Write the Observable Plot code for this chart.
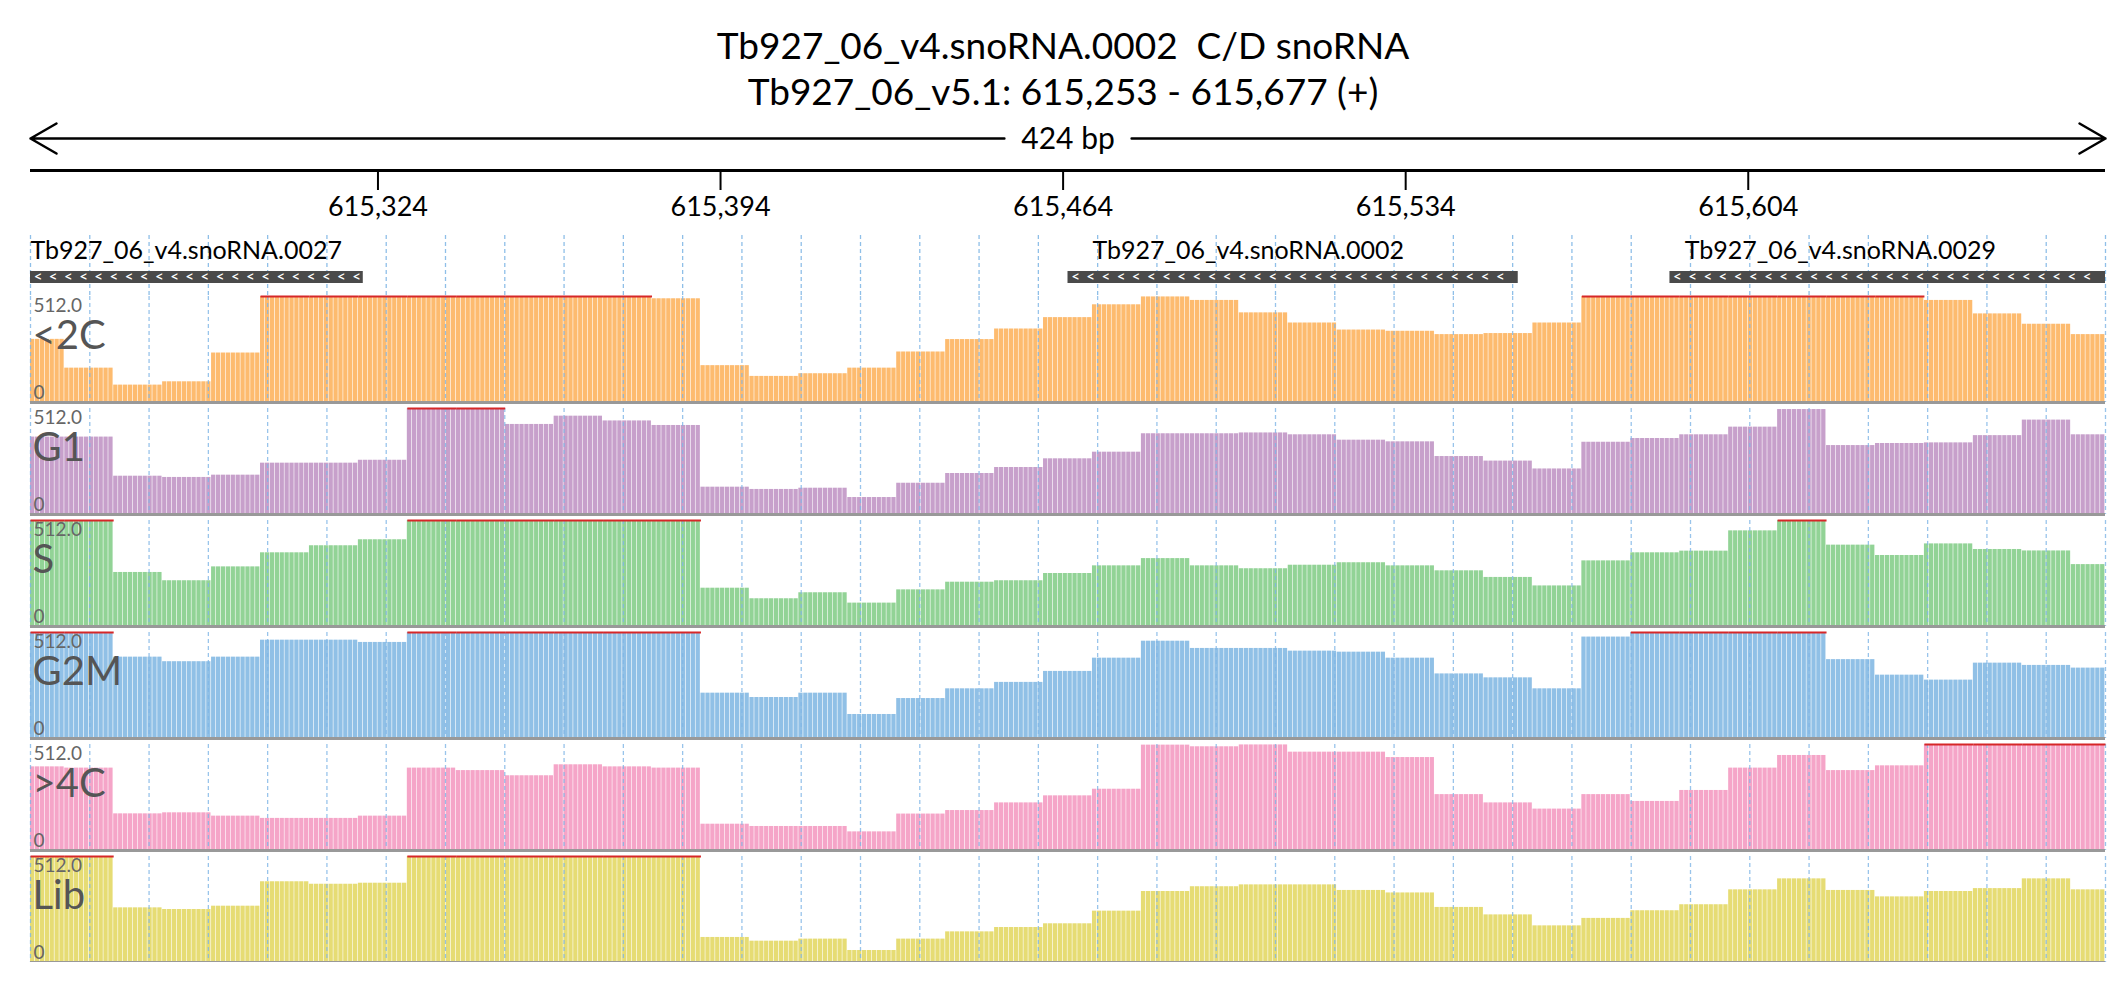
<!DOCTYPE html>
<html>
<head>
<meta charset="utf-8">
<script src="https://cdn.jsdelivr.net/npm/d3@7"></script>
<script src="https://cdn.jsdelivr.net/npm/@observablehq/plot@0.6"></script>
<style>
  body { margin: 0; background: #fff; font-family: Lato, sans-serif; }
  #title { height: 115px; text-align: center; font-size: 37px; line-height: 46px; box-sizing: border-box; padding-top: 22px; color: #000; }
  #title div { height: 46px; }
</style>
</head>
<body>
<div id="title"><div>Tb927_06_v4.snoRNA.0002&nbsp; C/D snoRNA</div><div>Tb927_06_v5.1: 615,253 - 615,677 (+)</div></div>
<div id="plot-region"></div>
<script>
const REGION_START = 615253;
const REGION_END = 615677;
const MAX_Y = 512;

const tickValues = [615324, 615394, 615464, 615534, 615604];

const genes = [
  { name: "Tb927_06_v4.snoRNA.0027", start: 615253, end: 615321, labelAt: 615253 },
  { name: "Tb927_06_v4.snoRNA.0002", start: 615465, end: 615557, labelAt: 615470 },
  { name: "Tb927_06_v4.snoRNA.0029", start: 615588, end: 615677, labelAt: 615591 }
];

const tracks = ["<2C", "G1", "S", "G2M", ">4C", "Lib"];
const trackColors = ["#fdbb6f", "#c7a0cb", "#92d396", "#90c0e6", "#f5a5c8", "#e6dc74"];

// coverage per 10bp bin (first bin 7bp, last bin 7bp); 600 = clipped at the top
const cov2C = [305, 166, 84, 100, 239, 600, 600, 600, 600, 600, 600, 600, 600, 501, 178, 126, 139, 166, 244, 304, 355, 410,
  472, 510, 493, 433, 384, 350, 344, 328, 333, 384, 600, 600, 600, 600, 600, 600, 600, 493, 428, 378, 328];
const covG1 = [374, 374, 185, 179, 190, 248, 248, 262, 600, 600, 435, 475, 452, 430, 132, 121, 127, 82, 151, 198, 227, 269,
  301, 390, 390, 394, 385, 359, 351, 280, 258, 220, 349, 367, 385, 422, 507, 333, 343, 346, 381, 456, 385];
const covS = [600, 600, 261, 221, 288, 356, 390, 419, 600, 600, 600, 600, 600, 600, 185, 134, 163, 113, 177, 214, 221, 256,
  293, 328, 293, 279, 296, 308, 293, 269, 237, 196, 317, 356, 364, 462, 600, 393, 343, 399, 372, 365, 299];
const covG2M = [600, 600, 393, 371, 393, 475, 475, 464, 600, 600, 600, 600, 600, 600, 219, 198, 219, 116, 193, 240, 271, 324,
  388, 470, 435, 435, 422, 417, 388, 312, 293, 240, 490, 600, 600, 600, 600, 381, 306, 282, 364, 353, 340];
const cov4C = [404, 398, 177, 182, 166, 155, 155, 166, 398, 386, 361, 414, 404, 398, 127, 116, 116, 90, 176, 193, 230, 264,
  296, 509, 501, 510, 475, 475, 449, 270, 230, 200, 270, 237, 290, 398, 459, 386, 409, 600, 600, 600, 600];
const covLib = [600, 600, 264, 256, 272, 390, 378, 383, 600, 600, 600, 600, 600, 600, 121, 103, 113, 58, 113, 148, 169, 187,
  248, 343, 366, 375, 375, 348, 336, 266, 230, 177, 213, 250, 279, 351, 404, 348, 317, 343, 357, 404, 351];
const coverage = [cov2C, covG1, covS, covG2M, cov4C, covLib];

const binEdges = [REGION_START, ...d3.range(615260, REGION_END, 10), REGION_END];

const W = 2126, ML = 30, MR = 21;
const xScale = { domain: [REGION_START, REGION_END], range: [ML, W - MR] };
const gridX = d3.range(36).map(i => REGION_START + i * (REGION_END - REGION_START) / 35);

function plotHeader() {
  const mid = (REGION_START + REGION_END) / 2;
  const chevrons = genes.flatMap(g => d3.range(g.start + 1.5, g.end - 1, 3.1).map(x => ({ x })));
  return Plot.plot({
    width: W, height: 180,
    marginLeft: 0, marginRight: 0, marginTop: 0, marginBottom: 0,
    x: { ...xScale, axis: null },
    y: { domain: [0, 180], range: [0, 180], axis: null },
    marks: [
      Plot.ruleX(gridX, { y1: 120, y2: 180, stroke: "#8fbfe8", strokeWidth: 1.3, strokeDasharray: "4,3" }),
      Plot.arrow([{ a: mid - 13, b: REGION_START }, { a: mid + 13, b: REGION_END }],
        { x1: "a", x2: "b", y1: 23, y2: 23, stroke: "#000", strokeWidth: 2.5, headLength: 18 }),
      Plot.text(["424 bp"], { x: mid, y: 24, fontSize: 30, fill: "#000", fontFamily: "Lato" }),
      Plot.ruleY([55], { x1: REGION_START, x2: REGION_END, stroke: "#000", strokeWidth: 3 }),
      Plot.ruleX(tickValues, { y1: 55, y2: 75, stroke: "#000", strokeWidth: 2 }),
      Plot.text(tickValues, { x: d => d, y: 92, text: d => d3.format(",")(d), fontSize: 27, fill: "#000", fontFamily: "Lato" }),
      Plot.text(genes, { x: "labelAt", y: 135, text: "name", textAnchor: "start", fontSize: 25, fill: "#000", fontFamily: "Lato" }),
      Plot.rect(genes, { x1: "start", x2: "end", y1: 156, y2: 168, fill: "#4a4a4a" }),
      Plot.text(chevrons, { x: "x", y: 162, text: () => "<", fill: "#fff", fontSize: 12, fontWeight: "bold" })
    ]
  });
}

function plotTracks() {
  const bars = [], clipped = [];
  tracks.forEach((t, ti) => {
    coverage[ti].forEach((v, bi) => {
      const s = binEdges[bi], e = binEdges[bi + 1];
      for (let bp = s; bp < e; bp++) bars.push({ track: t, x1: bp, x2: bp + 1, v: Math.min(v, MAX_Y) });
      if (v > MAX_Y) clipped.push({ track: t, x1: s, x2: e });
    });
  });
  const labels = tracks.map(t => ({ track: t }));
  return Plot.plot({
    width: W, height: 667,
    marginLeft: ML, marginRight: MR, marginTop: 0, marginBottom: 0,
    x: { ...xScale, axis: null },
    y: { domain: [0, MAX_Y], axis: null },
    fy: { domain: tracks, axis: null, paddingInner: 0.055, paddingOuter: 0 },
    color: { domain: tracks, range: trackColors },
    marks: [
      Plot.ruleY([MAX_Y], { fy: t => t, stroke: "#bbb", strokeWidth: 2, strokeDasharray: "2,1" }),
      Plot.rectY(bars, { fy: "track", x1: "x1", x2: "x2", y: "v", fill: "track", insetRight: 0.6 }),
      Plot.ruleX(gridX, { stroke: "#7fb5e6", strokeWidth: 1.3, strokeDasharray: "4,3", strokeOpacity: 0.8 }),
      Plot.link(clipped, { fy: "track", x1: "x1", x2: "x2", y1: MAX_Y, y2: MAX_Y, stroke: "#d62728", strokeWidth: 2 }),
      Plot.ruleY([0], { stroke: "#999", strokeWidth: 3 }),
      Plot.text(labels, { fy: "track", frameAnchor: "top-left", dx: 3, dy: 2, text: () => "512.0", fill: "#666", fontSize: 19, fontFamily: "Lato" }),
      Plot.text(labels, { fy: "track", frameAnchor: "top-left", dx: 2, dy: 24, text: "track", fill: "#555", fontSize: 40, fontFamily: "Lato" }),
      Plot.text(labels, { fy: "track", frameAnchor: "bottom-left", dx: 3, dy: -4, text: () => "0", fill: "#666", fontSize: 19, fontFamily: "Lato" })
    ]
  });
}

const region = document.getElementById("plot-region");
region.append(plotHeader());
region.append(plotTracks());
</script>
</body>
</html>
